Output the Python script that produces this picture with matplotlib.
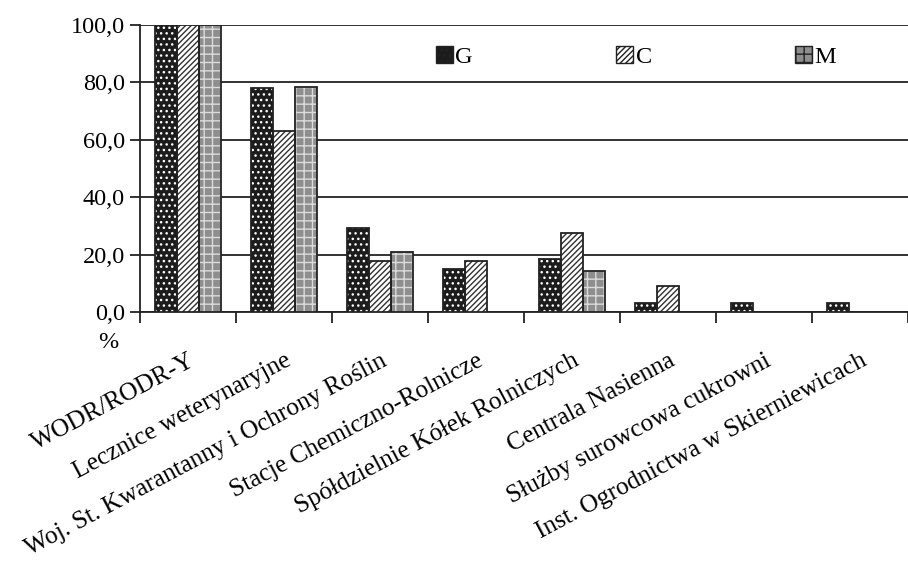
import numpy as np
import matplotlib
matplotlib.use("Agg")
import matplotlib.pyplot as plt

plt.rcParams['font.family'] = ['Liberation Serif', 'DejaVu Serif']
plt.rcParams['hatch.linewidth'] = 1.0

categories = [
    'WODR/RODR-Y',
    'Lecznice weterynaryjne',
    'Woj. St. Kwarantanny i Ochrony Roślin',
    'Stacje Chemiczno-Rolnicze',
    'Spółdzielnie Kółek Rolniczych',
    'Centrala Nasienna',
    'Służby surowcowa cukrowni',
    'Inst. Ogrodnictwa w Skierniewicach',
]
series_names = ['G', 'C', 'M']
g_vals = [100.0, 78.0, 29.4, 14.9, 18.6, 3.2, 3.2, 3.2]
c_vals = [100.0, 63.1, 17.8, 17.9, 27.5, 9.0, 0.0, 0.0]
m_vals = [100.0, 78.5, 21.0, 0.0, 14.2, 0.0, 0.0, 0.0]
y_ticks = [0, 20, 40, 60, 80, 100]

# fill, hatch, hatch colour for each series
styles = [
    ('#1c1c1c', '...', 'white'),
    ('white', '//////', '#333333'),
    ('#8e8e8e', '++', '#dcdcdc'),
]

fig = plt.figure(figsize=(9.08, 5.74), dpi=100)
ax = fig.add_axes([140 / 908, 1 - 312 / 574, 768 / 908, 287 / 574])

x = np.arange(len(categories))
width = 0.23
handles = []
for i, (name, vals) in enumerate(zip(series_names, [g_vals, c_vals, m_vals])):
    face, hatch, hcol = styles[i]
    vals = np.array(vals, dtype=float)
    vals[vals == 0] = np.nan
    pos = x + (i - 1) * width
    ax.bar(pos, vals, width, color=face, hatch=hatch, edgecolor=hcol,
           linewidth=0, zorder=3)
    ax.bar(pos, vals, width, fill=False, edgecolor='#222222',
           linewidth=1.3, zorder=4)
    handles.append(plt.Rectangle((0, 0), 1, 1, facecolor=face, hatch=hatch,
                                 edgecolor='#222222', linewidth=1.0))

ax.set_xlim(-0.5, 7.42)
ax.set_ylim(0, 100)
ax.set_yticks(y_ticks)
ax.set_yticklabels([f'{v:.1f}'.replace('.', ',') for v in y_ticks], fontsize=17.5)
ax.yaxis.grid(True, color='#222222', linewidth=1.3, zorder=0)

# boundary ticks between groups, labels centred under each group
ax.set_xticks(np.arange(len(categories) + 1) - 0.5)
ax.set_xticklabels([])
ax.set_xticks(x, minor=True)
ax.set_xticklabels(categories, minor=True, rotation=28, ha='right',
                   rotation_mode='anchor', fontsize=18.3)
ax.tick_params(axis='x', which='major', length=8, width=1.3, color='#222222')
ax.tick_params(axis='x', which='minor', length=0, pad=27)
ax.tick_params(axis='y', length=7, width=1.3, color='#222222', pad=4)

for s in ['top', 'right']:
    ax.spines[s].set_visible(False)
ax.spines['left'].set_linewidth(1.3)
ax.spines['bottom'].set_linewidth(1.3)
ax.spines['left'].set_color('#222222')
ax.spines['bottom'].set_color('#222222')

ax.legend(handles, series_names, ncol=3, frameon=False, fontsize=17.5,
          handlelength=0.7, handleheight=0.7, handletextpad=0.1,
          columnspacing=5.9, loc='center', bbox_to_anchor=(0.646, 0.89))

fig.text(108 / 908, 1 - 342 / 574, '%', ha='center', va='center', fontsize=17.5)

fig.savefig('out.png', dpi=100)
